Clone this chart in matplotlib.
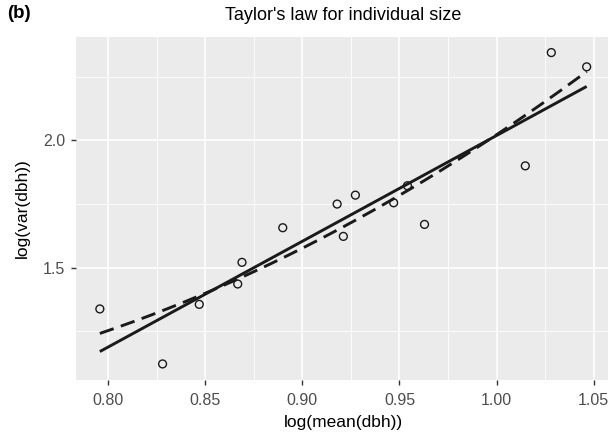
import numpy as np
import matplotlib
matplotlib.use("Agg")
import matplotlib.pyplot as plt

plt.rcParams['font.family'] = ['Liberation Sans', 'DejaVu Sans']

# data: log(mean(dbh)) vs log(var(dbh))
log_mean = [0.7957, 0.8280, 0.8469, 0.8667, 0.8689, 0.8899, 0.9179, 0.9211,
            0.9273, 0.9470, 0.9541, 0.9629, 1.0148, 1.0282, 1.0464]
log_var = [1.338, 1.122, 1.356, 1.436, 1.521, 1.657, 1.750, 1.623,
           1.785, 1.755, 1.822, 1.670, 1.900, 2.345, 2.289]
x_ticks = [0.80, 0.85, 0.90, 0.95, 1.00, 1.05]
x_ticklabels = ["0.80", "0.85", "0.90", "0.95", "1.00", "1.05"]
y_ticks = [1.5, 2.0]
y_ticklabels = ["1.5", "2.0"]

x = np.array(log_mean)
y = np.array(log_var)

W, H = 608, 441
fig = plt.figure(figsize=(W / 100, H / 100), dpi=100)
left, right, top, bottom = 75.5, 611, 37, 379.5
ax = fig.add_axes([left / W, 1 - bottom / H, (right - left) / W, (bottom - top) / H])
ax.set_facecolor('#EBEBEB')
for s in ax.spines.values():
    s.set_visible(False)

xr = x.max() - x.min()
yr = y.max() - y.min()
ax.set_xlim(x.min() - 0.05 * xr, x.max() + 0.05 * xr)
ax.set_ylim(y.min() - 0.05 * yr, y.max() + 0.05 * yr)

ax.set_xticks(x_ticks)
ax.set_xticklabels(x_ticklabels)
ax.set_yticks(y_ticks)
ax.set_yticklabels(y_ticklabels)
ax.set_xticks([0.825, 0.875, 0.925, 0.975, 1.025], minor=True)
ax.set_yticks([1.25, 1.75, 2.25], minor=True)
ax.grid(which='major', color='white', linewidth=1.2)
ax.grid(which='minor', color='white', linewidth=0.6)
ax.set_axisbelow(True)
ax.tick_params(which='major', length=3.5, width=1.0, color='#333333',
               labelsize=11.5, labelcolor='#4D4D4D')
ax.tick_params(axis='x', which='major', pad=6)
ax.tick_params(axis='y', which='major', pad=4)
ax.tick_params(which='minor', length=0)

xs = np.linspace(x.min(), x.max(), 200)
# linear fit (solid)
b1 = np.polyfit(x, y, 1)
ax.plot(xs, np.polyval(b1, xs), color='#1a1a1a', lw=2.1, solid_capstyle='butt', zorder=3)
# quadratic fit (dashed)
b2 = np.polyfit(x, y, 2)
ax.plot(xs, np.polyval(b2, xs), color='#1a1a1a', lw=2.1, ls=(0, (5, 2.6)),
        dash_capstyle='butt', zorder=3)

ax.scatter(x, y, s=32, facecolors='none', edgecolors='#1a1a1a', linewidths=1.0, zorder=4)

ax.set_xlabel('log(mean(dbh))', fontsize=12.5, color='black', labelpad=5)
ax.set_ylabel('log(var(dbh))', fontsize=12.5, color='black', labelpad=9)
ax.set_title("Taylor's law for individual size", fontsize=13, pad=12)
fig.text(7 / W, 1 - 13 / H, '(b)', fontsize=13.5, fontweight='bold', va='center', ha='left')

fig.savefig('out.png', dpi=100)
